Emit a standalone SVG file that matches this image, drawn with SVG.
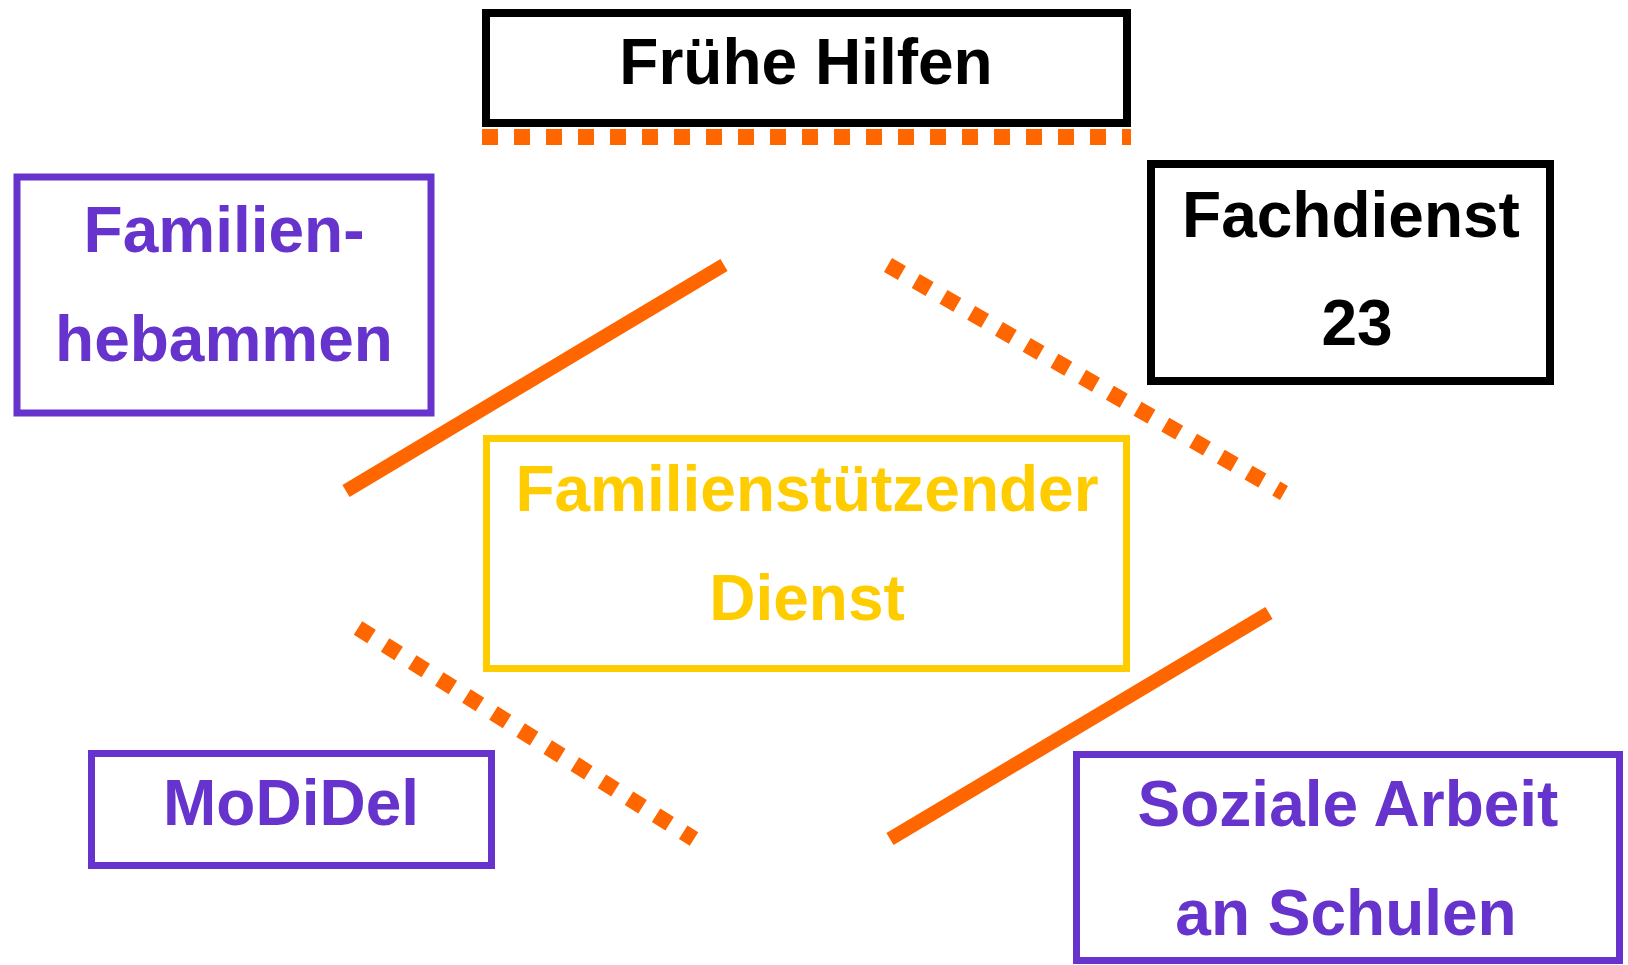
<svg xmlns="http://www.w3.org/2000/svg" width="1628" height="965" viewBox="0 0 1628 965">
<style>
.box{fill:#ffffff;stroke-width:7}
.blk{stroke:#000000;stroke-width:8}
.pur{stroke:#6633cc}
.yel{stroke:#ffcc00}
.t{font-family:"Liberation Sans",Arial,sans-serif;font-weight:bold;font-size:64px;text-anchor:middle}
.tb{fill:#000000}
.tp{fill:#6633cc}
.ty{fill:#ffcc00}
.solid{stroke:#ff6600;stroke-width:14;fill:none}
.dot{stroke:#ff6600;stroke-width:16;fill:none;stroke-dasharray:16 16}
</style>
<rect width="1628" height="965" fill="#ffffff"/>
<g id="connectors">
<line class="dot" x1="482" y1="137" x2="1131" y2="137"/>
<line class="solid" x1="346" y1="491" x2="724" y2="265"/>
<line class="dot" x1="888" y1="265" x2="1284" y2="493"/>
<line class="dot" x1="358" y1="628" x2="694" y2="839"/>
<line class="solid" x1="890" y1="839" x2="1269" y2="613"/>
</g>
<g id="fruehe-hilfen">
<rect class="box blk" x="486" y="13" width="641" height="110"/>
<text class="t tb" x="806" y="84">Frühe Hilfen</text>
</g>
<g id="fachdienst-23">
<rect class="box blk" x="1151" y="164" width="399" height="217"/>
<text class="t tb" x="1351" y="237">Fachdienst</text>
<text class="t tb" x="1357" y="345">23</text>
</g>
<g id="familienhebammen">
<rect class="box pur" x="17" y="177" width="414" height="236"/>
<text class="t tp" x="224" y="252">Familien-</text>
<text class="t tp" x="224" y="361">hebammen</text>
</g>
<g id="familienstuetzender-dienst">
<rect class="box yel" x="486.5" y="438.5" width="640" height="230"/>
<text class="t ty" x="807" y="511">Familienstützender</text>
<text class="t ty" x="807" y="620">Dienst</text>
</g>
<g id="modidel">
<rect class="box pur" x="91.5" y="753.5" width="400" height="112"/>
<text class="t tp" x="291" y="825">MoDiDel</text>
</g>
<g id="soziale-arbeit">
<rect class="box pur" x="1076.5" y="754.5" width="543" height="206"/>
<text class="t tp" x="1348" y="826">Soziale Arbeit</text>
<text class="t tp" x="1346" y="935">an Schulen</text>
</g>
</svg>
